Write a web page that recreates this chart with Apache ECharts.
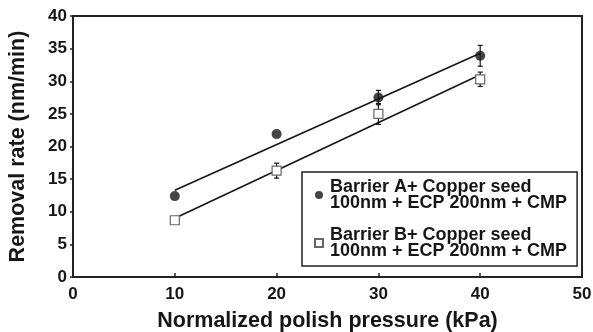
<!DOCTYPE html>
<html><head><meta charset="utf-8">
<script src="https://cdn.jsdelivr.net/npm/echarts@6/dist/echarts.min.js"></script>
<style>html,body{margin:0;padding:0;background:#fff}#c{width:593px;height:332px}</style>
</head><body><div id="c"></div>
<script>
const pressure = [10, 20, 30, 40];
const rateA = [12.4, 21.9, 27.5, 33.9];
const errA = [0, 0, 1.1, 1.6];
const rateB = [8.7, 16.3, 25.0, 30.3];
const errB = [0, 1.15, 1.6, 1.1];
const fitX = [10, 40];
const fitA = [13.3, 34.3];
const fitB = [9.0, 31.0];
const nameA = 'Barrier A+ Copper seed\n100nm + ECP 200nm + CMP';
const nameB = 'Barrier B+ Copper seed\n100nm + ECP 200nm + CMP';
const xTitle = 'Normalized polish pressure (kPa)';
const yTitle = 'Removal rate (nm/min)';

const font = 'Liberation Sans, Arial, Helvetica, sans-serif';
const ink = '#161616';
const chart = echarts.init(document.getElementById('c'));
function errSeries(vals, errs) {
  return {
    type: 'custom', silent: true, z: 3,
    data: pressure.map((x, i) => [x, vals[i], errs[i]]),
    renderItem: function (params, api) {
      const x = api.value(0), y = api.value(1), e = api.value(2);
      if (!e) return null;
      const top = api.coord([x, y + e]);
      const bot = api.coord([x, y - e]);
      const w = 2.5;
      const st = { stroke: ink, lineWidth: 1.2 };
      return { type: 'group', children: [
        { type: 'line', shape: { x1: top[0], y1: top[1], x2: bot[0], y2: bot[1] }, style: st },
        { type: 'line', shape: { x1: top[0] - w, y1: top[1], x2: top[0] + w, y2: top[1] }, style: st },
        { type: 'line', shape: { x1: bot[0] - w, y1: bot[1], x2: bot[0] + w, y2: bot[1] }, style: st }
      ]};
    }
  };
}
chart.setOption({
  animation: false,
  backgroundColor: '#fff',
  grid: { left: 73, right: 11, top: 16, bottom: 55, show: true, borderColor: '#222', borderWidth: 2,
          containLabel: false, outerBoundsMode: 'none' },
  xAxis: {
    type: 'value', min: 0, max: 50, interval: 10,
    name: xTitle, nameLocation: 'middle', nameGap: 33,
    nameTextStyle: { fontFamily: font, fontWeight: 'bold', fontSize: 21.5, color: ink },
    axisLine: { lineStyle: { color: '#222', width: 2 } },
    axisTick: { inside: true, length: 4, lineStyle: { color: '#222', width: 1.5 } },
    axisLabel: { fontFamily: font, fontWeight: 'bold', fontSize: 17, color: ink, margin: 9 },
    splitLine: { show: false }
  },
  yAxis: {
    type: 'value', min: 0, max: 40, interval: 5,
    name: yTitle, nameLocation: 'middle', nameGap: 44, nameRotate: 90,
    nameTextStyle: { fontFamily: font, fontWeight: 'bold', fontSize: 21.5, color: ink },
    axisLine: { lineStyle: { color: '#222', width: 2 } },
    axisTick: { inside: false, length: 3, lineStyle: { color: '#222', width: 1.5 } },
    axisLabel: { fontFamily: font, fontWeight: 'bold', fontSize: 17, color: ink, margin: 6 },
    splitLine: { show: false }
  },
  legend: {
    left: 302, top: 172, width: 274, orient: 'vertical',
    padding: [0, 10, 0, 12], itemGap: 2,
    borderColor: '#222', borderWidth: 1.5, backgroundColor: '#fff',
    itemWidth: 8, itemHeight: 8,
    data: [{ name: nameA, icon: 'circle' }, { name: nameB, icon: 'rect' }],
    textStyle: { fontFamily: font, fontWeight: 'bold', fontSize: 18, lineHeight: 16, color: ink, padding: [14, 0, 0, 2] }
  },
  series: [
    { type: 'line', data: fitX.map((x, i) => [x, fitA[i]]), symbol: 'none', lineStyle: { color: ink, width: 1.6 }, z: 2, silent: true },
    { type: 'line', data: fitX.map((x, i) => [x, fitB[i]]), symbol: 'none', lineStyle: { color: ink, width: 1.6 }, z: 2, silent: true },
    errSeries(rateA, errA),
    errSeries(rateB, errB),
    { name: nameA, type: 'scatter', symbol: 'circle', symbolSize: 10, z: 4,
      data: pressure.map((x, i) => [x, rateA[i]]), itemStyle: { color: ink } },
    { name: nameB, type: 'scatter', symbol: 'rect', symbolSize: 9, z: 4,
      data: pressure.map((x, i) => [x, rateB[i]]), itemStyle: { color: '#fff', borderColor: '#666', borderWidth: 1.2, opacity: 1 } }
  ]
});
</script></body></html>
